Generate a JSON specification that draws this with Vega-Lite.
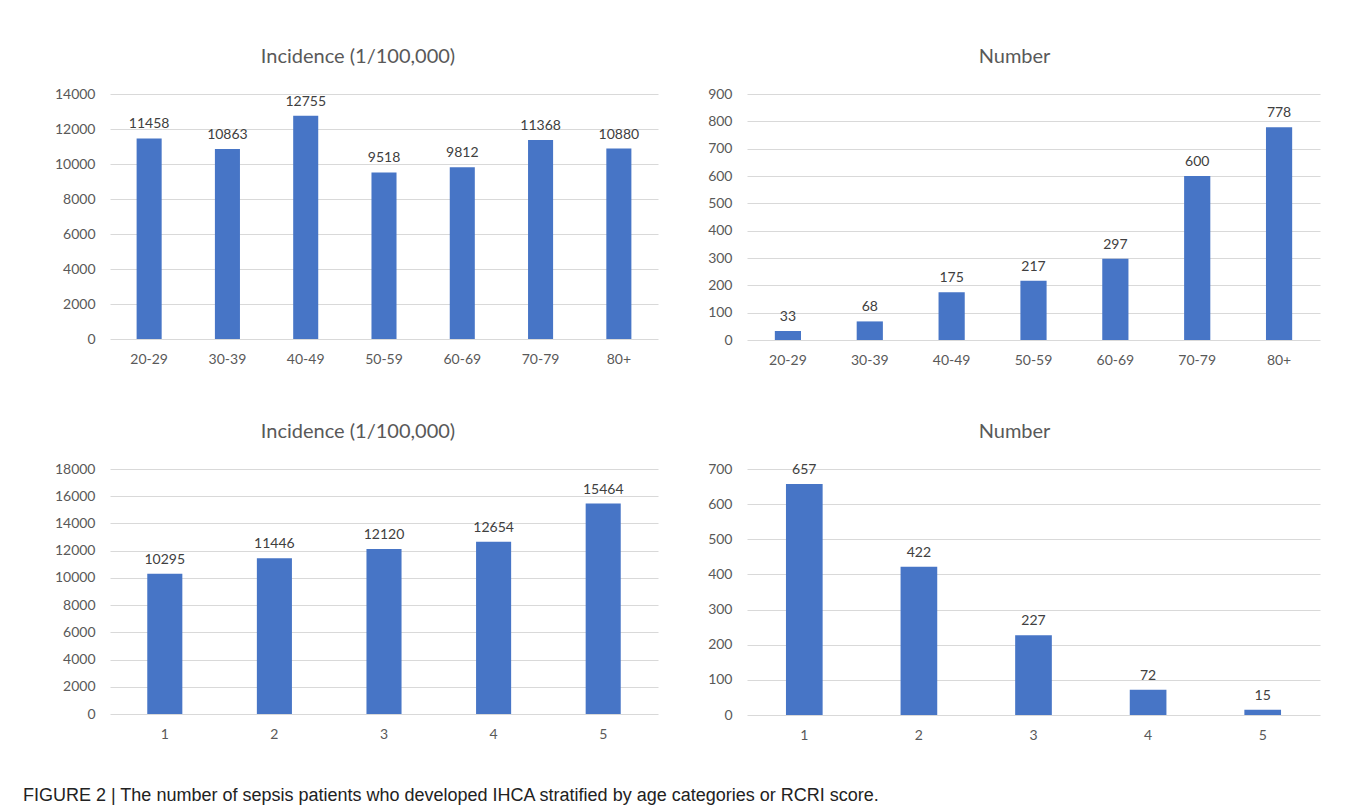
{
  "$schema": "https://vega.github.io/schema/vega-lite/v6.json",
  "background": "white",
  "padding": {"left": 23, "top": 47, "right": 38, "bottom": 5},
  "autosize": {"type": "pad"},
  "datasets": {
    "ageInc": [
      {"age": "20-29", "value": 11458},
      {"age": "30-39", "value": 10863},
      {"age": "40-49", "value": 12755},
      {"age": "50-59", "value": 9518},
      {"age": "60-69", "value": 9812},
      {"age": "70-79", "value": 11368},
      {"age": "80+", "value": 10880}
    ],
    "ageNum": [
      {"age": "20-29", "value": 33},
      {"age": "30-39", "value": 68},
      {"age": "40-49", "value": 175},
      {"age": "50-59", "value": 217},
      {"age": "60-69", "value": 297},
      {"age": "70-79", "value": 600},
      {"age": "80+", "value": 778}
    ],
    "rcriInc": [
      {"score": "1", "value": 10295},
      {"score": "2", "value": 11446},
      {"score": "3", "value": 12120},
      {"score": "4", "value": 12654},
      {"score": "5", "value": 15464}
    ],
    "rcriNum": [
      {"score": "1", "value": 657},
      {"score": "2", "value": 422},
      {"score": "3", "value": 227},
      {"score": "4", "value": 72},
      {"score": "5", "value": 15}
    ]
  },
  "title": {
    "text": "FIGURE 2 | The number of sepsis patients who developed IHCA stratified by age categories or RCRI score.",
    "orient": "bottom",
    "anchor": "start",
    "font": "Liberation Sans",
    "fontSize": 18,
    "fontWeight": "normal",
    "color": "#222222",
    "offset": 45
  },
  "config": {
    "view": {"stroke": null},
    "font": "Lato",
    "axis": {
      "labelFont": "Lato",
      "labelFontSize": 14,
      "labelColor": "#595959",
      "ticks": false,
      "domain": false,
      "grid": false,
      "labelPadding": 13
    },
    "axisY": {
      "grid": true,
      "gridColor": "#d9d9d9",
      "gridWidth": 1,
      "labelPadding": 15,
      "minExtent": 60,
      "maxExtent": 60
    },
    "axisX": {"labelAngle": 0},
    "title": {
      "font": "Lato",
      "fontSize": 20,
      "fontWeight": "normal",
      "color": "#595959",
      "offset": 20
    }
  },
  "spacing": 55,
  "vconcat": [
    {
      "spacing": 29,
      "hconcat": [
        {
          "data": {"name": "ageInc"},
          "width": 548,
          "height": 245,
          "title": {"text": "Incidence (1/100,000)", "dx": -26},
          "encoding": {
            "x": {"field": "age", "type": "nominal", "sort": null, "title": null,
                  "scale": {"paddingInner": 0.68, "paddingOuter": 0.34}},
            "y": {"field": "value", "type": "quantitative", "title": null,
                  "scale": {"domain": [0, 14000]},
                  "axis": {"tickCount": 7, "format": "d", "minExtent": 87, "maxExtent": 87}}
          },
          "layer": [
            {"mark": {"type": "bar", "color": "#4775c6"}},
            {"mark": {"type": "text", "baseline": "bottom", "dy": -7, "fontSize": 14, "color": "#404040", "font": "Lato"},
             "encoding": {"text": {"field": "value", "type": "quantitative", "format": "d"}}}
          ]
        },
        {
          "data": {"name": "ageNum"},
          "width": 573,
          "height": 246,
          "title": {"text": "Number", "dx": -19},
          "encoding": {
            "x": {"field": "age", "type": "nominal", "sort": null, "title": null,
                  "scale": {"paddingInner": 0.68, "paddingOuter": 0.34}},
            "y": {"field": "value", "type": "quantitative", "title": null,
                  "scale": {"domain": [0, 900]},
                  "axis": {"tickCount": 9, "format": "d"}}
          },
          "layer": [
            {"mark": {"type": "bar", "color": "#4775c6"}},
            {"mark": {"type": "text", "baseline": "bottom", "dy": -7, "fontSize": 14, "color": "#404040", "font": "Lato"},
             "encoding": {"text": {"field": "value", "type": "quantitative", "format": "d"}}}
          ]
        }
      ]
    },
    {
      "spacing": 29,
      "hconcat": [
        {
          "data": {"name": "rcriInc"},
          "width": 548,
          "height": 245,
          "title": {"text": "Incidence (1/100,000)", "dx": -26},
          "encoding": {
            "x": {"field": "score", "type": "nominal", "sort": null, "title": null,
                  "scale": {"paddingInner": 0.68, "paddingOuter": 0.34}},
            "y": {"field": "value", "type": "quantitative", "title": null,
                  "scale": {"domain": [0, 18000]},
                  "axis": {"tickCount": 9, "format": "d", "minExtent": 87, "maxExtent": 87}}
          },
          "layer": [
            {"mark": {"type": "bar", "color": "#4775c6"}},
            {"mark": {"type": "text", "baseline": "bottom", "dy": -7, "fontSize": 14, "color": "#404040", "font": "Lato"},
             "encoding": {"text": {"field": "value", "type": "quantitative", "format": "d"}}}
          ]
        },
        {
          "data": {"name": "rcriNum"},
          "width": 573,
          "height": 246,
          "title": {"text": "Number", "dx": -19},
          "encoding": {
            "x": {"field": "score", "type": "nominal", "sort": null, "title": null,
                  "scale": {"paddingInner": 0.68, "paddingOuter": 0.34}},
            "y": {"field": "value", "type": "quantitative", "title": null,
                  "scale": {"domain": [0, 700]},
                  "axis": {"tickCount": 7, "format": "d"}}
          },
          "layer": [
            {"mark": {"type": "bar", "color": "#4775c6"}},
            {"mark": {"type": "text", "baseline": "bottom", "dy": -7, "fontSize": 14, "color": "#404040", "font": "Lato"},
             "encoding": {"text": {"field": "value", "type": "quantitative", "format": "d"}}}
          ]
        }
      ]
    }
  ]
}
